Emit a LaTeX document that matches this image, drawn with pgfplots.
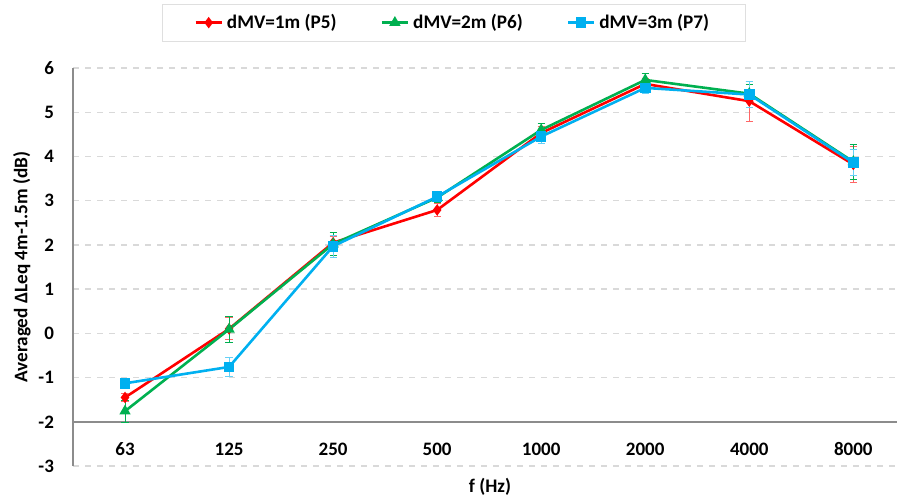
\documentclass[border=0pt]{standalone}
\usepackage{fontspec}
\setmainfont{Carlito}
\usepackage{pgfplots}
\pgfplotsset{compat=1.18}
\definecolor{cred}{RGB}{255,0,0}
\definecolor{cgreen}{RGB}{0,176,80}
\definecolor{cblue}{RGB}{0,176,240}
\definecolor{axgray}{RGB}{140,140,140}
\begin{document}
\begin{tikzpicture}
\useasboundingbox (0,0) rectangle (448.5pt,251pt);
\begin{axis}[
  at={(36.5pt,18pt)}, anchor=south west,
  scale only axis, width=412pt, height=199pt,
  xmin=-0.5, xmax=7.42, ymin=-3, ymax=6,
  xtick={0,...,7}, xticklabels={63,125,250,500,1000,2000,4000,8000},
  ytick={-3,...,6}, yticklabels={-3,-2,-1,0,1,2,3,4,5,6},
  ymajorgrids, grid style={dashed, gray!30, line width=0.7pt},
  major tick length=0pt,
  axis y line*=left, axis x line*=bottom,
  axis line style={-},
  x axis line style={draw=none},
  y axis line style={axgray, line width=1pt},
  extra y ticks={-2}, extra y tick labels={},
  extra y tick style={grid=major, major grid style={solid, axgray, line width=1pt}},
  tick label style={font=\bfseries\fontsize{9.5}{11}\selectfont},
  xticklabel style={anchor=center, yshift=8.5pt},
  yticklabel style={xshift=-6pt},
  ylabel={Averaged ΔLeq 4m-1.5m (dB)},
  xlabel={f (Hz)},
  label style={font=\bfseries\fontsize{9.6}{11}\selectfont},
  ylabel style={at={(axis description cs:-0.062,0.5)}, anchor=center},
  xlabel style={at={(axis description cs:0.506,-0.053)}, anchor=center},
  legend style={at={(0.462,1.114)}, anchor=center, legend columns=3,
    draw=gray!25, inner xsep=16pt, inner ysep=3pt,
    font=\bfseries\fontsize{9.6}{11}\selectfont,
    /tikz/every even column/.append style={column sep=20pt}},
  legend image code/.code={\draw[mark repeat=2, mark phase=2, #1] plot coordinates {(0pt,0pt)(6.5pt,0pt)(13pt,0pt)};},
  every axis plot/.append style={line width=1.3pt},
  error bars/y dir=both, error bars/y explicit,
]
\addplot[cred, mark=diamond*, mark size=1.8pt,
  error bars/error bar style={cred!60, line width=0.5pt},
  error bars/error mark options={rotate=90, mark size=1.8pt, cred!60, line width=0.5pt}]
  coordinates {
  (0,-1.45) +- (0,0.10)
  (1,0.10) +- (0,0.25)
  (2,2.05) +- (0,0.15)
  (3,2.79) +- (0,0.15)
  (4,4.53) +- (0,0.15)
  (5,5.64) +- (0,0.12)
  (6,5.25) +- (0,0.45)
  (7,3.82) +- (0,0.40)
  };
\addlegendentry{dMV=1m (P5)}
\addplot[cgreen, mark=triangle*, mark size=2pt,
  error bars/error bar style={cgreen, line width=0.5pt},
  error bars/error mark options={rotate=90, mark size=1.8pt, cgreen, line width=0.5pt}]
  coordinates {
  (0,-1.76) +- (0,0.25)
  (1,0.09) +- (0,0.30)
  (2,2.02) +- (0,0.25)
  (3,3.07) +- (0,0.10)
  (4,4.60) +- (0,0.15)
  (5,5.73) +- (0,0.15)
  (6,5.42) +- (0,0.20)
  (7,3.88) +- (0,0.40)
  };
\addlegendentry{dMV=2m (P6)}
\addplot[cblue, mark=square*, mark size=2pt,
  error bars/error bar style={cblue!60, line width=0.5pt},
  error bars/error mark options={rotate=90, mark size=1.8pt, cblue!60, line width=0.5pt}]
  coordinates {
  (0,-1.13) +- (0,0.10)
  (1,-0.76) +- (0,0.22)
  (2,1.97) +- (0,0.25)
  (3,3.09) +- (0,0.10)
  (4,4.45) +- (0,0.15)
  (5,5.55) +- (0,0.12)
  (6,5.40) +- (0,0.30)
  (7,3.86) +- (0,0.30)
  };
\addlegendentry{dMV=3m (P7)}
\end{axis}
\end{tikzpicture}
\end{document}
